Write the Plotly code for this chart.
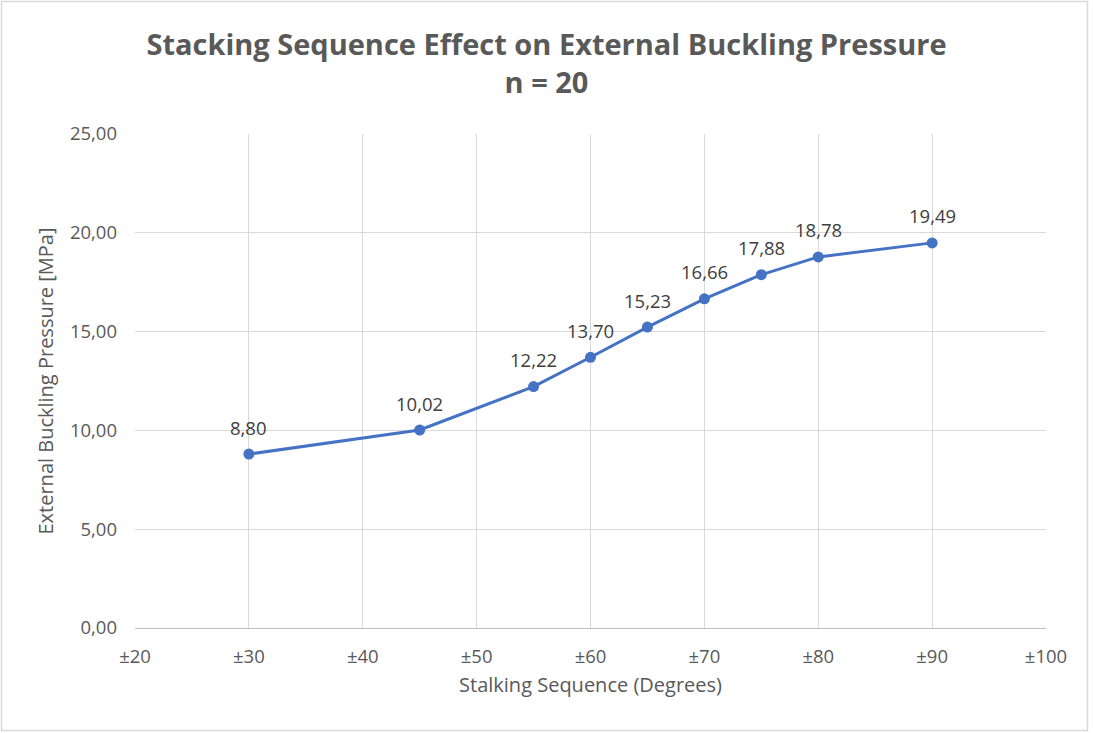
import plotly.graph_objects as go

# Ply angle (±degrees) and critical external buckling pressure, n = 20
angles = [30, 45, 55, 60, 65, 70, 75, 80, 90]
pressure = [8.80, 10.02, 12.22, 13.70, 15.23, 16.66, 17.88, 18.78, 19.49]

x_ticks = [20, 30, 40, 50, 60, 70, 80, 90, 100]
x_tick_labels = ["±20", "±30", "±40", "±50", "±60", "±70", "±80", "±90", "±100"]
y_ticks = [0, 5, 10, 15, 20, 25]

FONT = "Open Sans"
W, H = 1093, 733
ML, MR, MT, MB = 135, 47, 134, 105
PW, PH = W - ML - MR, H - MT - MB

fig = go.Figure()
fig.add_trace(go.Scatter(
    x=angles, y=pressure, mode="lines+markers",
    line=dict(color="#4472C4", width=3),
    marker=dict(color="#4472C4", size=11),
    hoverinfo="skip", showlegend=False,
))

def fmt(v):
    return f"{v:.2f}".replace(".", ",")

for a, p in zip(angles, pressure):
    fig.add_annotation(x=a, y=p, text=fmt(p), showarrow=False,
                       yshift=27, font=dict(family=FONT, size=18.5, color="#404040"))

# Outer chart frame
fig.add_shape(type="rect", xref="paper", yref="paper",
              x0=(1.5 - ML) / PW, x1=(W - 5.5 - ML) / PW,
              y0=-(MB - 2.5) / PH, y1=1 + (MT - 1.5) / PH,
              line=dict(color="#D9D9D9", width=1.5), layer="below")

fig.update_layout(
    width=W, height=H,
    margin=dict(l=ML, r=MR, t=MT, b=MB),
    paper_bgcolor="white", plot_bgcolor="white",
    separators=", ",
    font=dict(family=FONT, color="#595959"),
    title=dict(
        text="<b>Stacking Sequence Effect on External Buckling Pressure<br>n = 20</b>",
        x=0.5, xanchor="center", y=1 - 55 / H, yanchor="middle",
        font=dict(family=FONT, size=29, color="#595959"),
    ),
    xaxis=dict(
        range=[20, 100], tickvals=x_ticks, ticktext=x_tick_labels,
        showgrid=True, gridcolor="#D9D9D9", gridwidth=1,
        showline=True, linecolor="#BFBFBF", linewidth=1, mirror=False,
        zeroline=False, ticks="", ticklabelstandoff=12,
        tickfont=dict(family=FONT, size=18.5, color="#595959"),
        title=dict(text="Stalking Sequence (Degrees)", standoff=10,
                   font=dict(family=FONT, size=20, color="#595959")),
    ),
    yaxis=dict(
        range=[0, 25], tickvals=y_ticks, tickformat=".2f",
        showgrid=True, gridcolor="#D9D9D9", gridwidth=1,
        zeroline=False, showline=False, ticks="", ticklabelstandoff=17,
        tickfont=dict(family=FONT, size=18.5, color="#595959"),
        title=dict(text="External Buckling Pressure [MPa]", standoff=10,
                   font=dict(family=FONT, size=20, color="#595959")),
    ),
)

fig.write_html("out.html")
